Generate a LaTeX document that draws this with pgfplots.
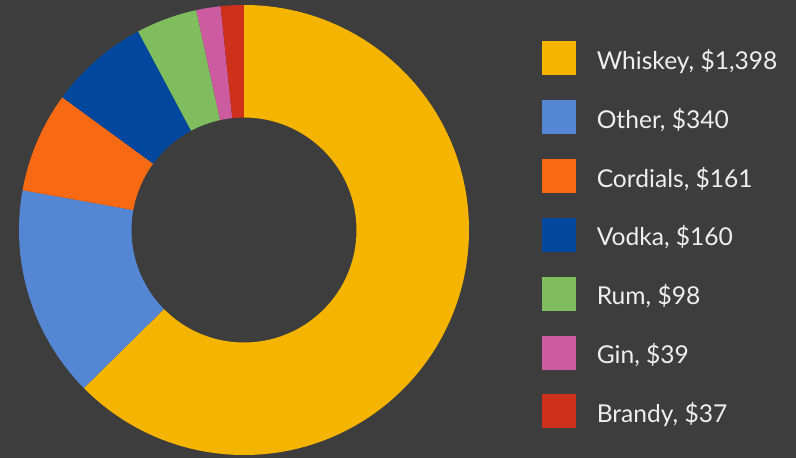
\documentclass[border=0pt]{standalone}
\usepackage{pgfplots}
\pgfplotsset{compat=1.18}
\usepackage{fontspec}
\setmainfont{Lato}
\definecolor{bg}{HTML}{3D3D3D}
\definecolor{cWhiskey}{HTML}{F5B400}
\definecolor{cOther}{HTML}{5586D3}
\definecolor{cCordials}{HTML}{F86913}
\definecolor{cVodka}{HTML}{00479D}
\definecolor{cRum}{HTML}{7FBD5F}
\definecolor{cGin}{HTML}{CD5BA0}
\definecolor{cBrandy}{HTML}{CE311B}
\definecolor{txt}{HTML}{EEEEEE}
\begin{document}
\begin{tikzpicture}
\begin{axis}[
  hide axis, scale only axis, clip=false,
  width=398pt, height=229pt,
  xmin=0, xmax=796, ymin=0, ymax=458,
  legend image code/.code={\fill[#1] (0pt,-8.25pt) rectangle (16.5pt,8.25pt);},
  legend cell align=left,
  legend style={draw=none, fill=none, inner sep=0pt, outer sep=0pt,
    at={(axis cs:542,416.5)}, anchor=north west,
    row sep=12.5pt,
    nodes={inner sep=0pt, text=txt, font=\fontsize{12.3}{12}\selectfont,
      text height=13.75pt, text depth=2.75pt},
    /tikz/every odd column/.append style={column sep=10.5pt}},
]
\fill[bg] (rel axis cs:0,0) rectangle (rel axis cs:1,1);
\gdef\angA{90}
\foreach \v/\c in {1398/cWhiskey,340/cOther,161/cCordials,160/cVodka,98/cRum,39/cGin,37/cBrandy}{
  \pgfmathsetmacro{\angB}{\angA-\v/2233*360}
  \edef\temp{\noexpand\fill[\c] (axis cs:244,228) ++(\angA:112.5pt)
    arc[start angle=\angA, end angle=\angB, radius=112.5pt]
    -- ++(\angB+180:56.25pt)
    arc[start angle=\angB, end angle=\angA, radius=56.25pt] -- cycle;}
  \temp
  \xdef\angA{\angB}
}
\addlegendimage{cWhiskey}\addlegendentry{Whiskey, \$1,398}
\addlegendimage{cOther}\addlegendentry{Other, \$340}
\addlegendimage{cCordials}\addlegendentry{Cordials, \$161}
\addlegendimage{cVodka}\addlegendentry{Vodka, \$160}
\addlegendimage{cRum}\addlegendentry{Rum, \$98}
\addlegendimage{cGin}\addlegendentry{Gin, \$39}
\addlegendimage{cBrandy}\addlegendentry{Brandy, \$37}
\end{axis}
\end{tikzpicture}
\end{document}
